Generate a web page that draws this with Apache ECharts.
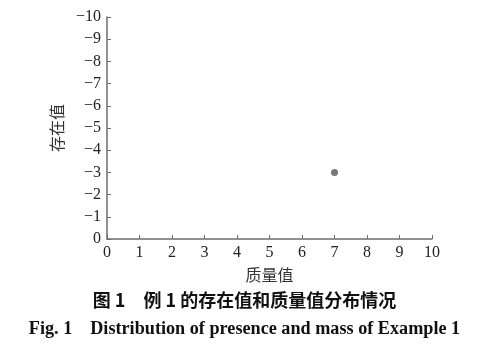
<!DOCTYPE html>
<html><head><meta charset="utf-8">
<script src="https://cdn.jsdelivr.net/npm/echarts@6/dist/echarts.min.js"></script>
<style>html,body{margin:0;padding:0;background:#fff}#c{width:489px;height:355px}</style>
</head><body><div id="c"></div>
<script>
const xTicks = [0,1,2,3,4,5,6,7,8,9,10];
const yTicks = [0,-1,-2,-3,-4,-5,-6,-7,-8,-9,-10];
const massValues = [7];
const presenceValues = [-3];
const xName = '质量值';
const yName = '存在值';
const captionCN = '图 1　例 1 的存在值和质量值分布情况';
const captionEN = 'Fig. 1　Distribution of presence and mass of Example 1';

const serif = '"Liberation Serif","Times New Roman",serif';
const cjk = '"Noto Sans CJK SC",sans-serif';
const axisColor = '#6e6e6e';
const chart = echarts.init(document.getElementById('c'));
chart.setOption({
  animation: false,
  backgroundColor: '#fff',
  grid: {left: 107, right: 57, top: 17, bottom: 116, containLabel: false},
  xAxis: {
    type: 'value', min: 0, max: 10, interval: 1,
    name: xName, nameLocation: 'middle', nameGap: 28,
    nameTextStyle: {fontFamily: cjk, fontSize: 16, color: '#333'},
    axisLine: {lineStyle: {color: axisColor, width: 1.5}},
    axisTick: {show: true, inside: true, length: 4, lineStyle: {color: axisColor}},
    axisLabel: {fontFamily: serif, fontSize: 16, color: '#222', margin: 6},
    splitLine: {show: false}
  },
  yAxis: {
    type: 'value', min: -10, max: 0, interval: 1, inverse: true,
    name: yName, nameLocation: 'middle', nameGap: 42, nameRotate: 90,
    nameTextStyle: {fontFamily: cjk, fontSize: 16, color: '#333'},
    axisLine: {show: true, lineStyle: {color: axisColor, width: 1.5}},
    axisTick: {show: true, inside: true, length: 4, lineStyle: {color: axisColor}},
    axisLabel: {fontFamily: serif, fontSize: 16, color: '#222', margin: 6,
      formatter: v => String(v).replace('-', '\u2212')},
    splitLine: {show: false}
  },
  series: [{
    type: 'scatter',
    data: massValues.map((m, i) => [m, presenceValues[i]]),
    symbolSize: 7,
    itemStyle: {color: '#555'}
  }],
  graphic: [
    {type: 'text', left: 'center', top: 291, style: {text: captionCN, font: 'bold 18px ' + cjk, fill: '#111'}},
    {type: 'text', left: 'center', top: 320, style: {text: captionEN, font: 'bold 18.2px ' + serif, fill: '#111'}}
  ]
});
</script></body></html>
